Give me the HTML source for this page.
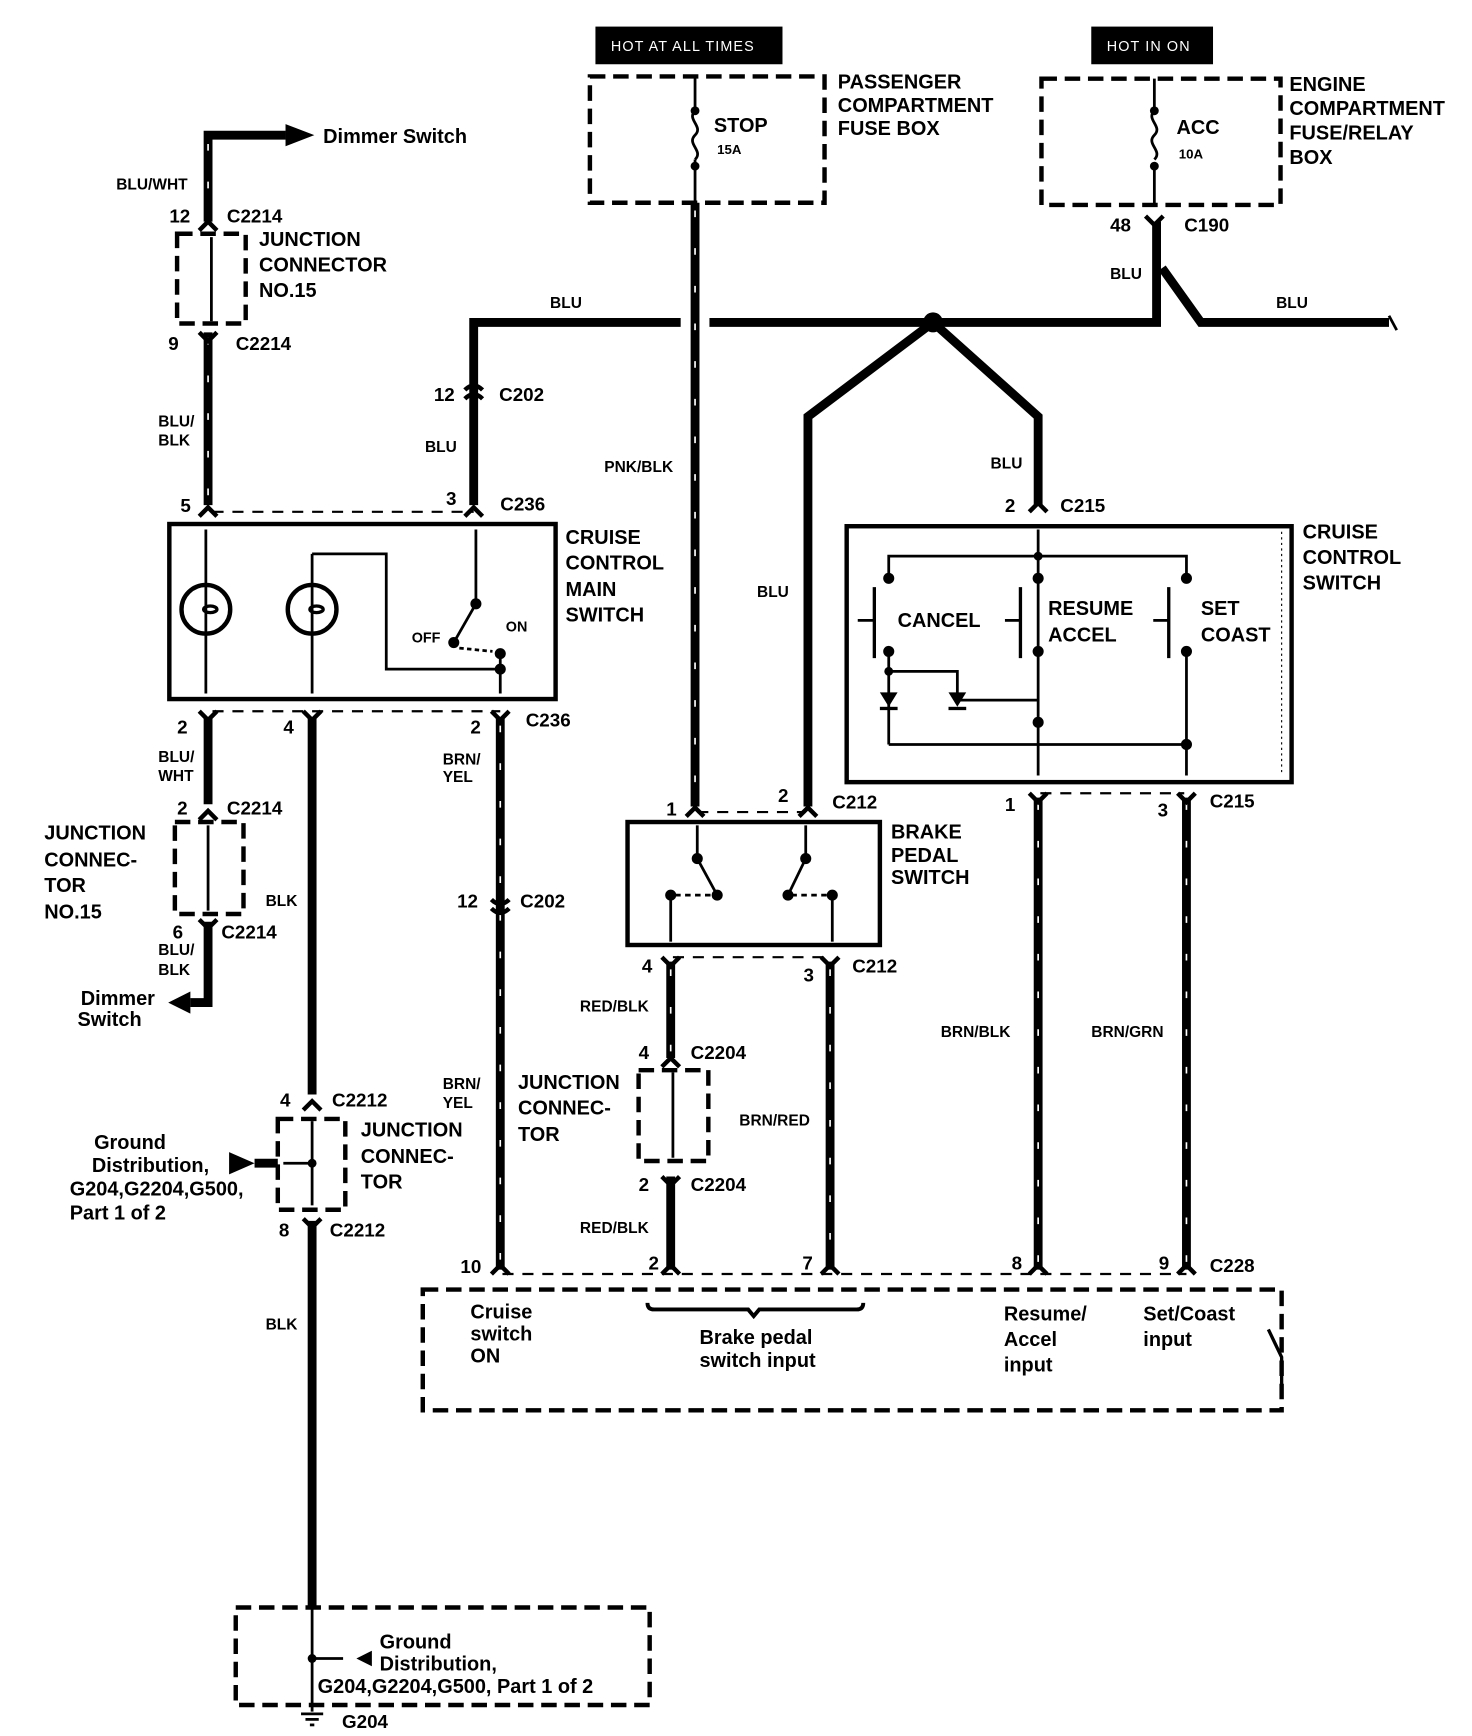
<!DOCTYPE html>
<html><head><meta charset="utf-8"><style>
html,body{margin:0;padding:0;background:#fff}
svg{display:block}
text{font-family:"Liberation Sans",Arial,sans-serif;font-weight:bold;fill:#000}
.l{font-size:18px}
.w{font-size:14px}
.n{font-size:17px}
.r{font-weight:normal;font-size:18px}
</style></head><body>
<svg width="1472" height="1736" viewBox="0 0 1330 1567" preserveAspectRatio="none" xmlns="http://www.w3.org/2000/svg">
<g fill="none" stroke="#000">
<g stroke-width="4" stroke-dasharray="14,7">
<rect x="533" y="69" width="212" height="114"/>
<rect x="941" y="71" width="216" height="114"/>
<rect x="160" y="211" width="62" height="81"/>
<rect x="158" y="742" width="62" height="83"/>
<rect x="251" y="1010" width="61" height="82"/>
<rect x="577" y="966" width="63" height="82"/>
<rect x="382" y="1164" width="776" height="109"/>
<rect x="213" y="1451" width="374" height="88"/>
</g>
<g stroke-width="2" stroke-dasharray="10,8">
<line x1="192" y1="462" x2="428" y2="462"/>
<line x1="192" y1="642" x2="452" y2="642"/>
<line x1="630" y1="733" x2="728" y2="733"/>
<line x1="608" y1="864" x2="750" y2="864"/>
<line x1="940" y1="716" x2="1070" y2="716"/>
<line x1="454" y1="1150" x2="1072" y2="1150"/>
</g>
<g stroke-width="8" stroke-linejoin="miter">
<polyline points="188,200 188,122 258,122"/>
<line x1="188" y1="300" x2="188" y2="456"/>
<polyline points="428,456 428,291 615,291"/>
<polyline points="641,291 1045,291 1045,200"/>
<polyline points="1050,242 1085,291 1255,291"/>
<line x1="628" y1="183" x2="628" y2="728"/>
<polyline points="843,291 730,376 730,728"/>
<polyline points="843,291 938,376 938,456"/>
<line x1="188" y1="648" x2="188" y2="726"/>
<polyline points="188,832 188,905 172,905"/>
<line x1="282" y1="648" x2="282" y2="988"/>
<line x1="282" y1="1102" x2="282" y2="1450"/>
<line x1="452" y1="648" x2="452" y2="1146"/>
<line x1="606" y1="868" x2="606" y2="955"/>
<line x1="606" y1="1062" x2="606" y2="1146"/>
<line x1="750" y1="868" x2="750" y2="1146"/>
<line x1="938" y1="720" x2="938" y2="1146"/>
<line x1="1072" y1="720" x2="1072" y2="1146"/>
<line x1="230" y1="1050" x2="251" y2="1050"/>
</g>
<g stroke="#fff" stroke-width="1.5" stroke-dasharray="6,28">
<line x1="628" y1="190" x2="628" y2="725"/>
<line x1="188" y1="305" x2="188" y2="450"/>
<line x1="188" y1="130" x2="188" y2="195"/>
<line x1="452" y1="655" x2="452" y2="1140"/>
<line x1="750" y1="875" x2="750" y2="1140"/>
<line x1="938" y1="725" x2="938" y2="1140"/>
<line x1="1072" y1="725" x2="1072" y2="1140"/>
<line x1="606" y1="875" x2="606" y2="950"/>
</g>
<g stroke-width="2.5">
<path d="M628,69 V100 M628,100 c-8,8 8,14 0,22 c-8,8 8,14 0,22 M628,144 V183"/>
<path d="M1043,71 V100 M1043,100 c-8,8 8,14 0,22 c-8,8 8,14 0,22 M1043,150 V185"/>
<line x1="1255" y1="285" x2="1262" y2="298"/>
</g>
<g stroke-width="4">
<path d="M180,208 L188,200 L196,208"/><path d="M180,300 L188,308 L196,300"/>
<path d="M180,466 L188,458 L196,466"/><path d="M420,466 L428,458 L436,466"/>
<path d="M420,352 q8,-8 16,0 M420,360 q8,-8 16,0"/>
<path d="M180,642 L188,650 L196,642"/><path d="M274,642 L282,650 L290,642"/><path d="M444,642 L452,650 L460,642"/>
<path d="M180,740 L188,732 L196,740"/><path d="M180,830 L188,838 L196,830"/>
<path d="M444,812 q8,8 16,0 M444,820 q8,8 16,0"/>
<path d="M274,1002 L282,994 L290,1002"/><path d="M274,1100 L282,1108 L290,1100"/>
<path d="M598,963 L606,955 L614,963"/><path d="M598,1062 L606,1070 L614,1062"/>
<path d="M444,1150 L452,1142 L460,1150"/><path d="M598,1150 L606,1142 L614,1150"/><path d="M742,1150 L750,1142 L758,1150"/><path d="M930,1150 L938,1142 L946,1150"/><path d="M1064,1150 L1072,1142 L1080,1150"/>
<path d="M620,737 L628,729 L636,737"/><path d="M722,737 L730,729 L738,737"/>
<path d="M598,864 L606,872 L614,864"/><path d="M742,864 L750,872 L758,864"/>
<path d="M930,462 L938,454 L946,462"/><path d="M930,716 L938,724 L946,716"/><path d="M1064,716 L1072,724 L1080,716"/>
<path d="M1035,195 L1043,203 L1051,195"/>
</g>
<g stroke-width="4">
<rect x="153" y="473" width="349" height="158"/>
<rect x="567" y="742" width="228" height="111"/>
<rect x="765" y="475" width="402" height="231"/>
</g>
<g stroke-width="2.5">
<line x1="186" y1="478" x2="186" y2="626"/>
<circle cx="186" cy="550" r="22" stroke-width="4"/>
<line x1="282" y1="500" x2="282" y2="626"/>
<circle cx="282" cy="550" r="22" stroke-width="4"/>
<polyline points="282,500 349,500 349,604 452,604"/>
<line x1="430" y1="478" x2="430" y2="545"/>
<line x1="430" y1="545" x2="410" y2="580"/>
<line x1="452" y1="590" x2="452" y2="626"/>
<line x1="415" y1="585" x2="445" y2="588" stroke-dasharray="4,3"/>
<line x1="630" y1="745" x2="630" y2="775"/><line x1="630" y1="775" x2="648" y2="808"/>
<line x1="728" y1="745" x2="728" y2="775"/><line x1="728" y1="775" x2="712" y2="808"/>
<line x1="606" y1="808" x2="606" y2="850"/><line x1="752" y1="808" x2="752" y2="850"/>
<line x1="610" y1="808" x2="645" y2="808" stroke-dasharray="5,4"/><line x1="715" y1="808" x2="748" y2="808" stroke-dasharray="5,4"/>
<line x1="938" y1="478" x2="938" y2="700"/>
<polyline points="803,520 803,502 1072,502 1072,520"/>
<line x1="803" y1="588" x2="803" y2="672"/>
<line x1="1072" y1="588" x2="1072" y2="700"/>
<polyline points="803,606 865,606 865,632 938,632"/>
<polyline points="803,672 1072,672"/>
<line x1="790" y1="530" x2="790" y2="594" stroke-width="3"/><line x1="775" y1="560" x2="790" y2="560"/>
<line x1="922" y1="530" x2="922" y2="594" stroke-width="3"/><line x1="908" y1="560" x2="922" y2="560"/>
<line x1="1056" y1="530" x2="1056" y2="594" stroke-width="3"/><line x1="1042" y1="560" x2="1056" y2="560"/>
<line x1="1158" y1="480" x2="1158" y2="700" stroke-width="1" stroke-dasharray="2,3"/>
<line x1="191" y1="214" x2="191" y2="290"/>
<line x1="188" y1="745" x2="188" y2="822"/>
<line x1="282" y1="1012" x2="282" y2="1088"/>
<line x1="256" y1="1050" x2="282" y2="1050"/>
<line x1="608" y1="968" x2="608" y2="1045"/>
<line x1="282" y1="1451" x2="282" y2="1545"/>
<line x1="282" y1="1497" x2="310" y2="1497"/>
<path d="M585,1176 q0,6 6,6 h85 l5,6 l5,-6 h88 q6,0 6,-6" stroke-width="3.5"/>
<path d="M1146,1200 l12,25 v30" stroke-width="3"/>
</g>
<g stroke-width="2.5"><line x1="272" y1="1547" x2="292" y2="1547"/><line x1="276" y1="1552" x2="288" y2="1552"/><line x1="280" y1="1557" x2="284" y2="1557"/></g>
</g>
<g fill="#000">
<rect x="538" y="24" width="169" height="34"/><rect x="986" y="24" width="110" height="34"/>
<polygon points="258,112 284,122 258,132"/>
<polygon points="172,895 152,905 172,915"/>
<polygon points="207,1040 230,1050 207,1060"/>
<polygon points="336,1490 322,1497 336,1504"/>
<circle cx="843" cy="291" r="9"/>
<circle cx="628" cy="100" r="4"/><circle cx="628" cy="150" r="4"/>
<circle cx="1043" cy="100" r="4"/><circle cx="1043" cy="150" r="4"/>
<circle cx="430" cy="545" r="5"/><circle cx="410" cy="580" r="5"/><circle cx="452" cy="590" r="5"/><circle cx="452" cy="604" r="5"/>
<circle cx="630" cy="775" r="5"/><circle cx="648" cy="808" r="5"/><circle cx="606" cy="808" r="5"/>
<circle cx="728" cy="775" r="5"/><circle cx="712" cy="808" r="5"/><circle cx="752" cy="808" r="5"/>
<circle cx="803" cy="522" r="5"/><circle cx="938" cy="522" r="5"/><circle cx="1072" cy="522" r="5"/>
<circle cx="803" cy="588" r="5"/><circle cx="938" cy="588" r="5"/><circle cx="1072" cy="588" r="5"/>
<circle cx="938" cy="502" r="4"/><circle cx="938" cy="652" r="5"/><circle cx="1072" cy="672" r="5"/><circle cx="803" cy="606" r="4"/>
<circle cx="282" cy="1050" r="4"/><circle cx="282" cy="1497" r="4"/>
<polygon points="795,625 811,625 803,638"/><rect x="795" y="638" width="16" height="3"/>
<polygon points="857,625 873,625 865,638"/><rect x="857" y="638" width="16" height="3"/>
</g>
<g fill="none" stroke="#000" stroke-width="3"><ellipse cx="190" cy="550" rx="6" ry="3"/><ellipse cx="286" cy="550" rx="6" ry="3"/></g>
<text x="552" y="46" style="font-weight:normal;font-size:13px;fill:#fff;letter-spacing:1px">HOT AT ALL TIMES</text>
<text x="1000" y="46" style="font-weight:normal;font-size:13px;fill:#fff;letter-spacing:1px">HOT IN ON</text>
<text x="645" y="119" class="l">STOP</text><text x="648" y="139" style="font-size:12px">15A</text>
<text x="1063" y="121" class="l">ACC</text><text x="1065" y="143" style="font-size:12px">10A</text>
<g class="l">
<text x="757" y="80">PASSENGER</text><text x="757" y="101">COMPARTMENT</text><text x="757" y="122">FUSE BOX</text>
<text x="1165" y="82">ENGINE</text><text x="1165" y="104">COMPARTMENT</text><text x="1165" y="126">FUSE/RELAY</text><text x="1165" y="148">BOX</text>
<text x="234" y="222">JUNCTION</text><text x="234" y="245">CONNECTOR</text><text x="234" y="268">NO.15</text>
<text x="511" y="491">CRUISE</text><text x="511" y="514">CONTROL</text><text x="511" y="538">MAIN</text><text x="511" y="561">SWITCH</text>
<text x="1177" y="486">CRUISE</text><text x="1177" y="509">CONTROL</text><text x="1177" y="532">SWITCH</text>
<text x="811" y="566">CANCEL</text><text x="947" y="555">RESUME</text><text x="947" y="579">ACCEL</text><text x="1085" y="555">SET</text><text x="1085" y="579">COAST</text>
<text x="805" y="757">BRAKE</text><text x="805" y="778">PEDAL</text><text x="805" y="798">SWITCH</text>
<text x="40" y="758">JUNCTION</text><text x="40" y="782">CONNEC-</text><text x="40" y="805">TOR</text><text x="40" y="829">NO.15</text>
<text x="326" y="1026">JUNCTION</text><text x="326" y="1050">CONNEC-</text><text x="326" y="1073">TOR</text>
<text x="468" y="983">JUNCTION</text><text x="468" y="1006">CONNEC-</text><text x="468" y="1030">TOR</text>
</g>
<g class="n">
<text x="1003" y="209">48</text><text x="1070" y="209">C190</text>
<text x="153" y="201">12</text><text x="205" y="201">C2214</text>
<text x="152" y="316">9</text><text x="213" y="316">C2214</text>
<text x="392" y="362">12</text><text x="451" y="362">C202</text>
<text x="163" y="462">5</text><text x="403" y="456">3</text><text x="452" y="461">C236</text>
<text x="160" y="662">2</text><text x="256" y="662">4</text><text x="425" y="662">2</text><text x="475" y="656">C236</text>
<text x="160" y="735">2</text><text x="205" y="735">C2214</text>
<text x="156" y="847">6</text><text x="200" y="847">C2214</text>
<text x="413" y="819">12</text><text x="470" y="819">C202</text>
<text x="253" y="999">4</text><text x="300" y="999">C2212</text>
<text x="252" y="1116">8</text><text x="298" y="1116">C2212</text>
<text x="908" y="462">2</text><text x="958" y="462">C215</text>
<text x="602" y="736">1</text><text x="703" y="724">2</text><text x="752" y="730">C212</text>
<text x="580" y="878">4</text><text x="726" y="886">3</text><text x="770" y="878">C212</text>
<text x="577" y="956">4</text><text x="624" y="956">C2204</text>
<text x="577" y="1075">2</text><text x="624" y="1075">C2204</text>
<text x="908" y="732">1</text><text x="1046" y="737">3</text><text x="1093" y="729">C215</text>
<text x="416" y="1149">10</text><text x="586" y="1146">2</text><text x="725" y="1146">7</text><text x="914" y="1146">8</text><text x="1047" y="1146">9</text><text x="1093" y="1148">C228</text>
<text x="309" y="1560">G204</text>
</g>
<g class="w">
<text x="105" y="171">BLU/WHT</text>
<text x="143" y="385">BLU/</text><text x="143" y="402">BLK</text>
<text x="384" y="408">BLU</text><text x="497" y="278">BLU</text><text x="1003" y="252">BLU</text><text x="1153" y="278">BLU</text>
<text x="546" y="426">PNK/BLK</text><text x="895" y="423">BLU</text><text x="684" y="539">BLU</text>
<text x="143" y="688">BLU/</text><text x="143" y="705">WHT</text>
<text x="400" y="690">BRN/</text><text x="400" y="706">YEL</text>
<text x="240" y="818">BLK</text>
<text x="143" y="862">BLU/</text><text x="143" y="880">BLK</text>
<text x="400" y="983">BRN/</text><text x="400" y="1000">YEL</text>
<text x="524" y="913">RED/BLK</text><text x="668" y="1016">BRN/RED</text><text x="524" y="1113">RED/BLK</text>
<text x="850" y="936">BRN/BLK</text><text x="986" y="936">BRN/GRN</text>
<text x="240" y="1200">BLK</text>
<text x="372" y="580" style="font-size:13px">OFF</text><text x="457" y="570" style="font-size:13px">ON</text>
</g>
<g class="r">
<text x="292" y="129">Dimmer Switch</text>
<text x="73" y="907">Dimmer</text><text x="70" y="926">Switch</text>
<text x="85" y="1037">Ground</text><text x="83" y="1058">Distribution,</text><text x="63" y="1079">G204,G2204,G500,</text><text x="63" y="1101">Part 1 of 2</text>
<text x="425" y="1190">Cruise</text><text x="425" y="1210">switch</text><text x="425" y="1230">ON</text>
<text x="632" y="1213">Brake pedal</text><text x="632" y="1234">switch input</text>
<text x="907" y="1192">Resume/</text><text x="907" y="1215">Accel</text><text x="907" y="1238">input</text>
<text x="1033" y="1192">Set/Coast</text><text x="1033" y="1215">input</text>
<text x="343" y="1488">Ground</text><text x="343" y="1508">Distribution,</text><text x="287" y="1528">G204,G2204,G500, Part 1 of 2</text>
</g>
</svg>
</body></html>
